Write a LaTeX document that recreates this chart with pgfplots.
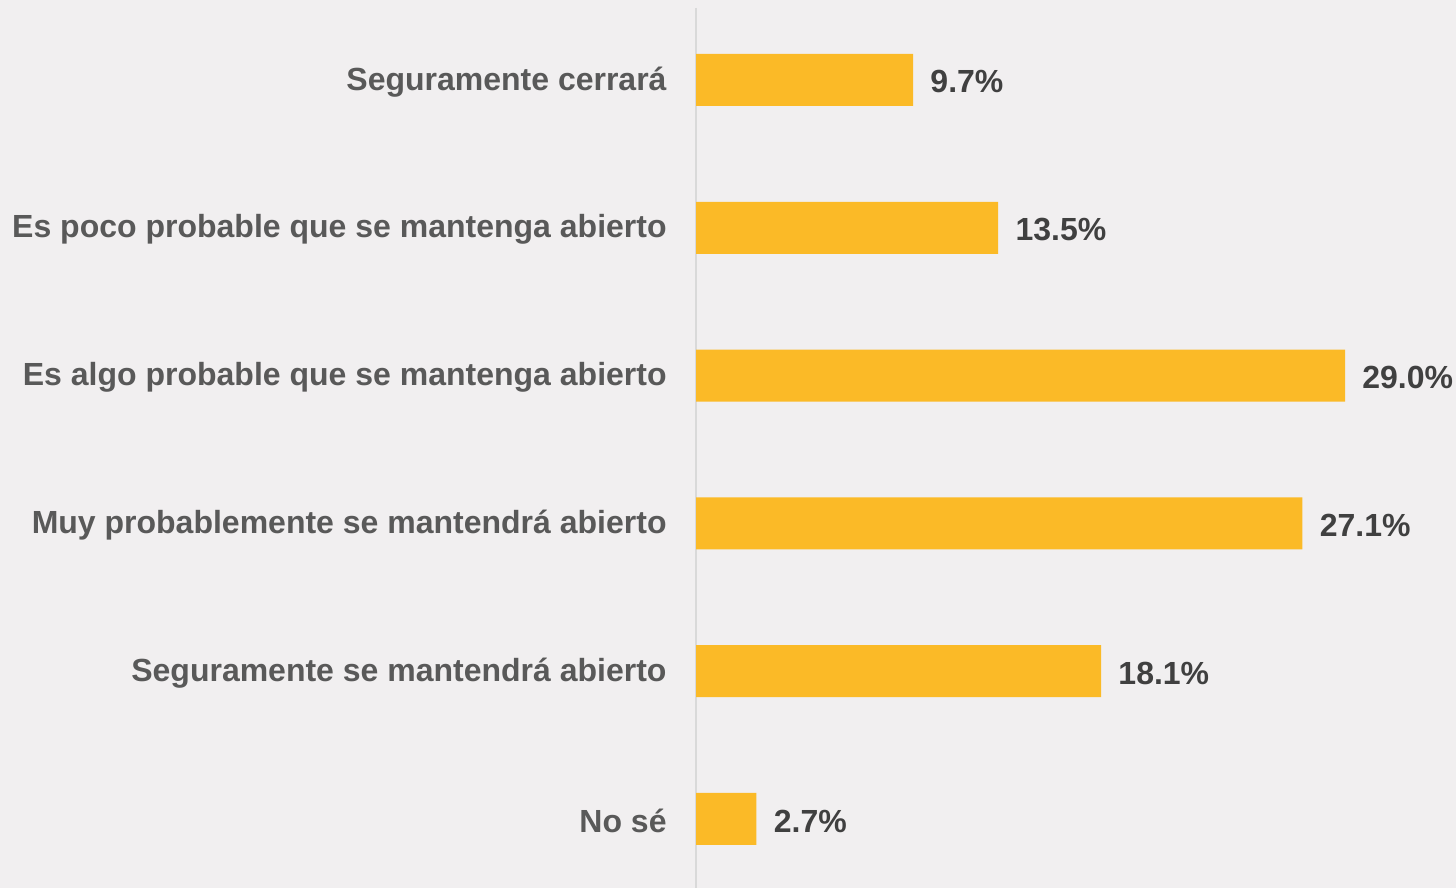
\documentclass[border=0pt]{standalone}
\usepackage{pgfplots}
\pgfplotsset{compat=1.18}
\usepackage{fontspec}
\setmainfont{Liberation Sans}
\definecolor{bgc}{HTML}{F1EFF0}
\definecolor{barc}{HTML}{FBBA27}
\definecolor{catc}{HTML}{595959}
\definecolor{valc}{HTML}{404040}
\definecolor{axc}{HTML}{D9D9D9}

\pgfplotstableread{
idx val
0 9.7
1 13.5
2 29.0
3 27.1
4 18.1
5 2.7
}\resp

\begin{document}
\begin{tikzpicture}
\useasboundingbox (0pt,0pt) rectangle (728pt,444pt);
\fill[bgc] (0pt,0pt) rectangle (728pt,444pt);
\begin{axis}[
    at={(348pt,0pt)}, anchor=south west,
    width=380pt, height=440pt,
    scale only axis,
    xbar, bar width=26pt,
    xmin=0, xmax=33.96,
    ymin=-0.487, ymax=5.467,
    y dir=reverse,
    axis x line=none,
    axis y line*=left,
    axis line style={-, draw=axc, line width=1pt},
    ytick={0,...,5},
    yticklabels={Seguramente cerrará, Es poco probable que se mantenga abierto, Es algo probable que se mantenga abierto, Muy probablemente se mantendrá abierto, Seguramente se mantendrá abierto, No sé},
    major tick length=0pt,
    yticklabel style={font=\fontsize{16}{18}\selectfont\bfseries, text=catc, anchor=east, inner sep=0pt, xshift=-14.5pt, yshift=-1pt},
    /pgf/number format/assume math mode=true,
    nodes near coords={\pgfmathprintnumber[fixed, fixed zerofill, precision=1, assume math mode=true]{\pgfplotspointmeta}\%},
    point meta=x,
    nodes near coords style={font=\fontsize{16}{18}\selectfont\bfseries, text=valc, anchor=west, inner sep=0pt, xshift=8.5pt, yshift=-1pt},
]
\addplot[fill=barc, draw=none] table[x=val, y=idx] {\resp};
\end{axis}
\end{tikzpicture}
\end{document}
